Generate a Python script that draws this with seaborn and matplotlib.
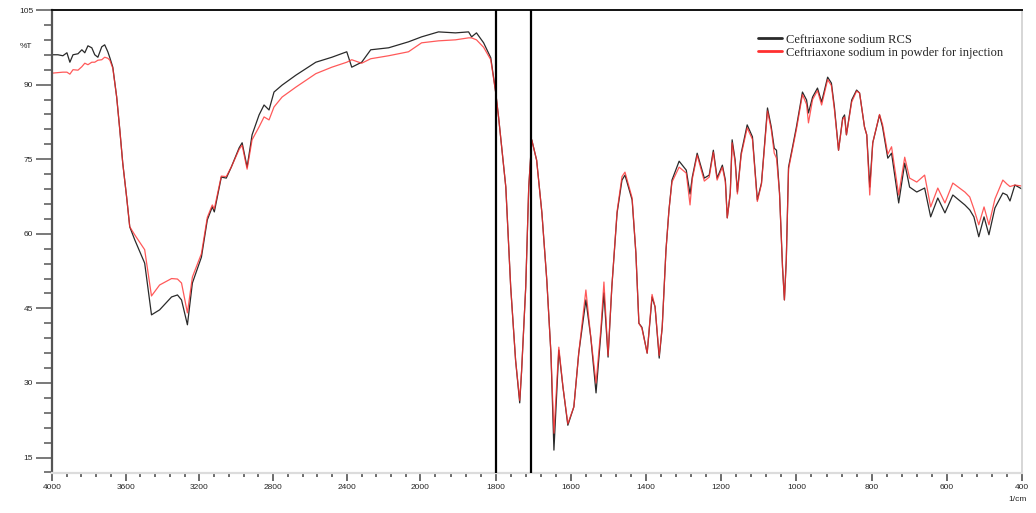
import numpy as np
import matplotlib
matplotlib.use("Agg")
import matplotlib.pyplot as plt
import seaborn as sns

# FTIR spectra, %T vs wavenumber (1/cm)
wavenumber = [
    4000, 3968, 3941, 3919, 3903, 3886, 3859, 3838, 3822, 3805,
    3784, 3768, 3751, 3730, 3714, 3697, 3686, 3670, 3649, 3632,
    3616, 3595, 3578, 3551, 3497, 3460, 3416, 3351, 3319, 3297,
    3265, 3238, 3189, 3157, 3130, 3119, 3081, 3054, 3027, 2984,
    2968, 2941, 2914, 2876, 2849, 2822, 2795, 2751, 2676, 2568,
    2481, 2400, 2373, 2319, 2270, 2173, 2065, 1997, 1952, 1907,
    1872, 1864, 1851, 1832, 1813, 1800, 1792, 1773, 1760, 1747,
    1736, 1731, 1720, 1712, 1704, 1691, 1677, 1664, 1653, 1645,
    1632, 1621, 1608, 1592, 1579, 1560, 1547, 1533, 1520, 1512,
    1501, 1491, 1477, 1464, 1456, 1437, 1427, 1419, 1411, 1397,
    1384, 1376, 1365, 1357, 1347, 1339, 1331, 1312, 1293, 1283,
    1277, 1264, 1245, 1232, 1221, 1211, 1197, 1189, 1184, 1176,
    1171, 1163, 1157, 1147, 1131, 1117, 1104, 1093, 1077, 1067,
    1059, 1053, 1045, 1037, 1032, 1027, 1021, 1011, 1000, 984,
    973, 968, 957, 944, 933, 917, 907, 899, 888, 877,
    872, 867, 853, 840, 832, 819, 813, 805, 797, 779,
    771, 757, 747, 728, 712, 699, 680, 659, 643, 624,
    605, 584, 552, 539, 528, 515, 501, 488, 472, 451,
    440, 432, 419, 400,
]

t_rcs = [
    96.0, 96.0, 95.8, 96.4, 94.5, 96.0, 96.2, 97.0, 96.4, 97.8,
    97.4, 96.0, 95.5, 97.6, 98.0, 96.6, 95.4, 93.5, 87.5, 80.9,
    74.2, 67.4, 61.4, 58.8, 54.1, 43.7, 44.7, 47.3, 47.7, 46.7,
    41.7, 50.1, 55.3, 62.8, 65.4, 64.4, 71.4, 71.2, 73.4, 77.3,
    78.3, 73.4, 79.9, 83.9, 85.9, 84.9, 88.5, 89.9, 91.9, 94.5,
    95.5, 96.6, 93.5, 94.5, 97.0, 97.4, 98.6, 99.6, 100.6, 100.4,
    100.6, 99.6, 100.4, 98.4, 95.4, 88.5, 83.3, 69.4, 49.3, 34.6,
    26.0, 32.4, 49.3, 69.4, 78.9, 74.8, 64.2, 50.7, 36.0, 16.5,
    36.6, 29.2, 21.5, 25.2, 36.0, 46.7, 39.2, 28.0, 40.1, 48.1,
    35.2, 49.3, 64.2, 70.8, 71.8, 66.8, 56.1, 42.0, 41.2, 36.0,
    47.3, 45.3, 35.0, 41.2, 56.7, 64.8, 70.8, 74.6, 72.8, 68.0,
    71.4, 76.2, 71.2, 71.8, 76.8, 71.2, 73.8, 70.8, 63.2, 68.2,
    78.9, 74.8, 68.4, 76.2, 81.9, 79.5, 66.8, 70.2, 85.3, 81.5,
    77.2, 76.8, 68.2, 53.3, 46.7, 54.7, 73.4, 77.2, 81.5, 88.5,
    86.9, 84.3, 87.5, 89.3, 86.5, 91.5, 90.3, 85.5, 76.8, 83.3,
    83.9, 79.9, 86.9, 88.9, 88.3, 81.5, 79.9, 69.4, 78.3, 83.9,
    81.5, 75.2, 76.2, 66.2, 74.2, 69.4, 68.4, 69.2, 63.4, 67.2,
    64.2, 67.8, 65.8, 64.8, 63.4, 59.4, 63.4, 59.8, 65.2, 68.2,
    67.8, 66.6, 69.8, 69.0,
]

t_injection = [
    92.3, 92.4, 92.5, 92.5, 92.1, 93.0, 92.9, 93.6, 94.3, 94.0,
    94.5, 94.5, 94.9, 95.0, 95.5, 95.3, 94.9, 93.3, 87.5, 80.9,
    74.2, 67.4, 61.4, 59.8, 56.8, 47.5, 49.7, 51.0, 50.9, 50.1,
    44.1, 51.3, 56.0, 63.3, 65.8, 65.0, 71.6, 71.5, 73.4, 77.0,
    77.8, 73.0, 78.9, 81.5, 83.5, 82.9, 85.5, 87.5, 89.5, 92.2,
    93.5, 94.5, 95.0, 94.3, 95.2, 95.8, 96.6, 98.4, 98.8, 99.0,
    99.4, 99.4, 99.0, 97.5, 95.0, 88.5, 83.3, 69.4, 49.3, 34.6,
    26.5, 32.4, 49.3, 69.4, 78.9, 74.8, 64.2, 50.7, 36.0, 19.9,
    37.2, 29.2, 21.8, 25.2, 36.0, 48.7, 39.2, 30.0, 41.0, 50.3,
    35.5, 49.3, 64.5, 71.5, 72.4, 67.2, 56.1, 42.0, 41.0, 36.0,
    47.8, 45.3, 35.5, 41.2, 56.7, 64.8, 70.4, 73.4, 72.2, 65.8,
    71.0, 75.8, 70.6, 71.4, 76.4, 70.8, 73.4, 70.4, 63.2, 68.0,
    78.3, 74.4, 68.0, 75.8, 81.3, 79.0, 66.5, 70.0, 84.7, 81.0,
    76.2, 75.2, 68.2, 53.3, 46.7, 54.7, 73.0, 76.8, 81.0, 88.0,
    86.0, 82.3, 87.0, 88.8, 85.9, 91.0, 89.8, 85.0, 76.8, 83.0,
    83.5, 79.9, 86.5, 88.7, 88.3, 81.5, 79.9, 67.8, 78.3, 84.0,
    82.0, 76.0, 77.5, 67.8, 75.4, 71.2, 70.4, 71.8, 65.4, 69.2,
    66.2, 70.2, 68.4, 67.4, 65.0, 61.8, 65.4, 61.8, 67.0, 70.8,
    70.0, 69.5, 69.8, 69.6,
]

marker_lines = [1800, 1707]
labels = ["Ceftriaxone sodium RCS", "Ceftriaxone sodium in powder for injection"]
x_major = [4000, 3600, 3200, 2800, 2400, 2000, 1800, 1600, 1400, 1200, 1000, 800, 600, 400]
y_major = [15, 30, 45, 60, 75, 90, 105]

# above 2000 1/cm the spectrometer plot is compressed about 2x
SQUEEZE = 0.49


def forward(x):
    x = np.asarray(x, dtype=float)
    return np.where(x > 2000, 2000 + (x - 2000) * SQUEEZE, x)


def inverse(u):
    u = np.asarray(u, dtype=float)
    return np.where(u > 2000, 2000 + (u - 2000) / SQUEEZE, u)


sns.set_theme(style="ticks")
plt.rcParams["font.family"] = ["Liberation Sans", "DejaVu Sans"]

fig, ax = plt.subplots(figsize=(10.36, 5.13), dpi=100)
fig.subplots_adjust(left=0.0502, right=0.9865, bottom=0.078, top=0.9805)
ax.set_xscale("function", functions=(forward, inverse))

sns.lineplot(x=wavenumber, y=t_rcs, color="#2a2a2a", lw=0.9, label=labels[0],
             estimator=None, sort=False, ax=ax)
sns.lineplot(x=wavenumber, y=t_injection, color="#ff3030", lw=0.9, alpha=0.8,
             label=labels[1], estimator=None, sort=False, ax=ax)
for wn in marker_lines:
    ax.axvline(wn, color="black", lw=1.6, zorder=5)

ax.set_xlim(4000, 400)
ax.set_ylim(11.9, 105)

x_minor = [v for v in list(range(4000, 2000, -80)) + list(range(2000, 399, -40))
           if v not in x_major]
ax.set_xticks(x_major)
ax.set_xticks(x_minor, minor=True)
ax.set_yticks(y_major)
ax.set_yticks([v for v in range(12, 106, 3) if v not in y_major], minor=True)
ax.tick_params(axis="x", which="major", length=6, width=1.1, color="#444444",
               labelsize=6, pad=2)
ax.tick_params(axis="x", which="minor", length=3, width=1.1, color="#444444")
ax.tick_params(axis="y", which="major", length=11.5, width=1.1, color="#555555",
               labelsize=6, pad=2)
ax.tick_params(axis="y", which="minor", length=5.5, width=1.1, color="#555555")
ax.set_xlabel("")
ax.set_ylabel("")

for side, col, lw in [("top", "#111111", 1.4), ("left", "#555555", 1.6),
                      ("right", "#d0d0d0", 1.2), ("bottom", "#dcdcdc", 1.6)]:
    ax.spines[side].set_visible(True)
    ax.spines[side].set_color(col)
    ax.spines[side].set_linewidth(lw)

ax.annotate("%T", xy=(0, 97.6), xycoords=("axes fraction", "data"),
            xytext=(-14, 0), textcoords="offset points", ha="right", va="center",
            fontsize=6)
ax.annotate("1/cm", xy=(1, 0), xycoords="axes fraction", xytext=(-3, -19),
            textcoords="offset points", ha="center", va="center", fontsize=6)

leg = ax.legend(loc="upper left", bbox_to_anchor=(0.7225, 0.96), frameon=False,
                handlelength=1.9, handletextpad=0.35, labelspacing=0.1,
                borderaxespad=0, prop={"family": "Liberation Serif", "size": 9})
for h in leg.get_lines():
    h.set_linewidth(2.0)
    h.set_alpha(1)

plt.savefig("out.png", dpi=100)
